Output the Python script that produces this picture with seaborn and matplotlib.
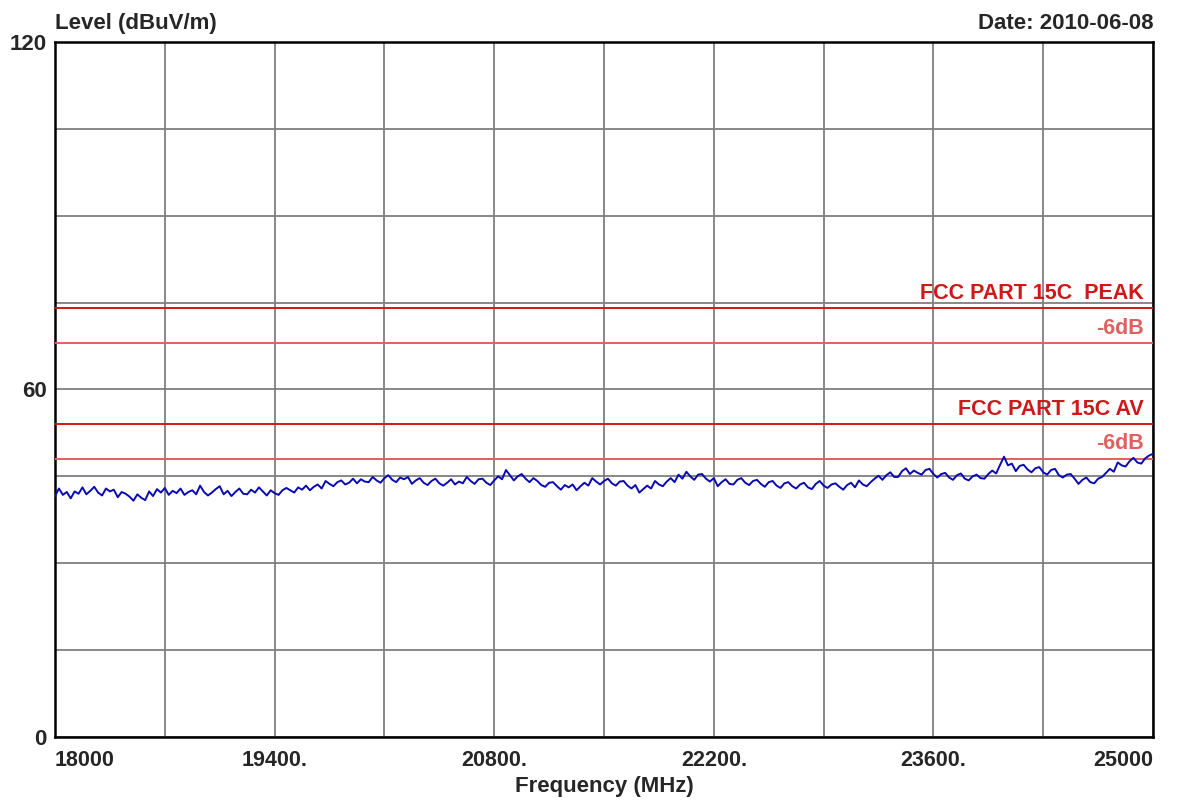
import numpy as np
import pandas as pd
import seaborn as sns
import matplotlib.pyplot as plt
import matplotlib.transforms as mtransforms

# sweep 18000-25000 MHz, one reading every 25 MHz
level = [
    41.6, 42.9, 41.8, 42.3, 41.2, 42.4, 42.0, 43.1, 41.9, 42.5, 43.2, 42.2, 41.7, 42.9, 42.4, 42.7, 41.4, 42.3, 42.0, 41.5,
    40.8, 41.9, 41.3, 40.9, 42.4, 41.6, 42.8, 42.2, 43.0, 41.8, 42.5, 42.1, 42.9, 41.8, 42.3, 42.6, 41.9, 43.4, 42.3, 41.7,
    42.2, 42.8, 43.3, 41.9, 42.5, 41.6, 42.3, 42.9, 42.0, 41.9, 42.7, 42.2, 43.1, 42.4, 41.7, 42.6, 42.1, 41.8, 42.6, 43.0,
    42.6, 42.2, 43.1, 42.7, 43.4, 42.6, 43.2, 43.6, 42.9, 44.2, 43.7, 43.3, 44.0, 44.3, 43.6, 43.9, 44.6, 43.8, 44.5, 44.1,
    44.0, 44.9, 44.3, 43.9, 44.7, 45.2, 44.4, 44.0, 44.8, 44.5, 44.9, 43.7, 44.3, 44.7, 43.9, 43.5, 44.2, 44.6, 43.8, 43.4,
    43.9, 44.5, 43.6, 44.1, 43.8, 44.9, 44.2, 43.7, 44.5, 44.6, 43.9, 43.5, 44.3, 45.0, 44.5, 46.1, 45.2, 44.3, 45.0, 45.4,
    44.6, 44.0, 44.7, 44.2, 43.5, 43.2, 43.9, 44.0, 43.3, 42.7, 43.5, 43.1, 43.6, 42.6, 43.3, 43.9, 43.4, 44.7, 44.1, 43.6,
    44.2, 44.6, 43.8, 43.4, 44.1, 44.2, 43.4, 42.9, 43.5, 42.2, 42.8, 43.4, 42.9, 44.2, 43.6, 43.3, 44.1, 44.7, 44.0, 45.3,
    44.6, 45.8, 45.0, 44.4, 45.3, 45.4, 44.6, 44.1, 44.7, 43.3, 44.0, 44.5, 43.7, 43.6, 44.4, 44.7, 43.9, 43.5, 44.2, 44.4,
    43.7, 43.2, 44.0, 44.2, 43.4, 43.0, 43.8, 44.0, 43.3, 42.9, 43.6, 43.9, 43.1, 42.8, 43.7, 44.2, 43.4, 43.0, 43.6, 43.8,
    43.2, 42.7, 43.5, 43.9, 43.1, 44.3, 43.6, 43.3, 44.0, 44.6, 45.1, 44.4, 45.2, 45.7, 44.9, 44.9, 45.9, 46.4, 45.4, 46.0,
    45.6, 45.3, 46.1, 46.3, 45.4, 44.8, 45.4, 45.6, 44.8, 44.4, 45.2, 45.5, 44.6, 44.3, 45.0, 45.3, 44.7, 44.6, 45.4, 46.0,
    45.5, 47.0, 48.4, 46.9, 47.2, 45.9, 46.8, 47.0, 46.2, 45.7, 46.4, 46.6, 45.7, 45.3, 46.1, 46.3, 45.2, 44.8, 45.3, 45.4,
    44.6, 43.7, 44.4, 44.8, 44.0, 43.8, 44.6, 44.9, 45.6, 46.3, 45.8, 47.4, 46.9, 46.7, 47.6, 48.2, 47.4, 47.2, 48.1, 48.6,
    48.9,
]
freq = np.linspace(18000, 25000, len(level))

limit_levels = [74, 68, 54, 48]
limit_names = ["FCC PART 15C  PEAK", "-6dB", "FCC PART 15C AV", "-6dB"]
limit_colors = ["#d01818", "#e06060", "#d01818", "#e06060"]

x_ticks = [18000, 18700, 19400, 20100, 20800, 21500, 22200, 22900, 23600, 24300, 25000]
x_labels = ["18000", "", "19400.", "", "20800.", "", "22200.", "", "23600.", "", "25000"]
y_ticks = [0, 15, 30, 45, 60, 75, 90, 105, 120]
y_labels = ["0", "", "", "", "60", "", "", "", "120"]

df = pd.DataFrame({"Frequency": freq, "Level": level})

sns.set_style("white")
plt.rcParams["font.family"] = ["Liberation Sans", "DejaVu Sans"]
plt.rcParams["font.weight"] = "bold"

fig = plt.figure(figsize=(11.78, 8.01), dpi=100)
ax = fig.add_axes([0.0467, 0.0799, 0.9321, 0.8677])

ax.set_xlim(18000, 25000)
ax.set_ylim(0, 120)
ax.set_xticks(x_ticks)
ax.set_xticklabels(x_labels, fontsize=15.5, fontweight="bold")
ax.set_yticks(y_ticks)
ax.set_yticklabels(y_labels, fontsize=16, fontweight="bold")
ax.tick_params(axis="both", length=0)
ax.tick_params(axis="x", pad=9)
ax.tick_params(axis="y", pad=6)
ax.grid(True, color="#7f7f7f", linewidth=1.3)
for s in ax.spines.values():
    s.set_color("black")
    s.set_linewidth(1.8)

labs = ax.get_xticklabels()
labs[0].set_horizontalalignment("left")
labs[-1].set_horizontalalignment("right")

trans = mtransforms.blended_transform_factory(ax.transAxes, ax.transData)
for lv, name, col in zip(limit_levels, limit_names, limit_colors):
    ax.axhline(lv, color=col, linewidth=1.4, zorder=3)
    ax.text(0.992, lv + 0.8, name, transform=trans, ha="right", va="bottom",
            color=col, fontsize=15.5, fontweight="bold")

sns.lineplot(data=df, x="Frequency", y="Level", ax=ax, color="#0a0ab4",
             linewidth=1.4, zorder=4)

ax.set_xlabel("Frequency (MHz)", fontsize=16, fontweight="bold", labelpad=4)
ax.set_ylabel("")

fig.text(0.0467, 0.971, "Level (dBuV/m)", ha="left", va="center",
         fontsize=16, fontweight="bold")
fig.text(0.9788, 0.971, "Date: 2010-06-08", ha="right", va="center",
         fontsize=16, fontweight="bold")

fig.savefig("out.png", dpi=100)
